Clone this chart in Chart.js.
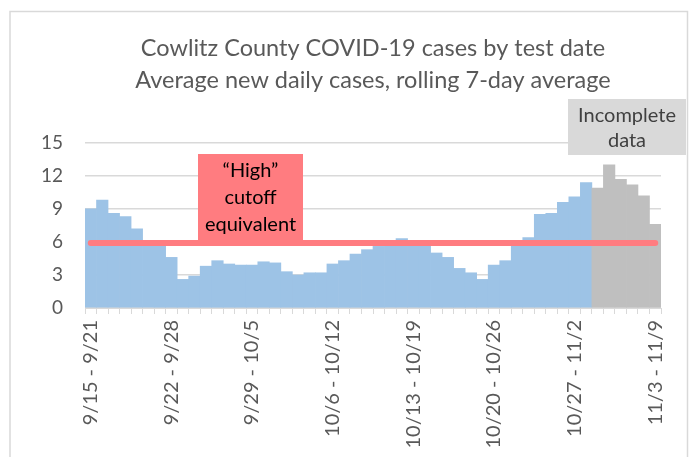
<!DOCTYPE html>
<html>
<head>
<meta charset="utf-8">
<script src="https://cdn.jsdelivr.net/npm/chart.js@4"></script>
<style>
  body { margin: 0; background: #fff; }
  #wrap { width: 692px; height: 457px; }
</style>
</head>
<body>
<div id="wrap"><canvas id="casesChart" width="692" height="457"></canvas></div>
<script>
// DATA

var weeks = [
  "9/15 - 9/21", "9/16 - 9/22", "9/17 - 9/23", "9/18 - 9/24", "9/19 - 9/25",
  "9/20 - 9/26", "9/21 - 9/27", "9/22 - 9/28", "9/23 - 9/29", "9/24 - 9/30",
  "9/25 - 10/1", "9/26 - 10/2", "9/27 - 10/3", "9/28 - 10/4", "9/29 - 10/5",
  "9/30 - 10/6", "10/1 - 10/7", "10/2 - 10/8", "10/3 - 10/9", "10/4 - 10/10",
  "10/5 - 10/11", "10/6 - 10/12", "10/7 - 10/13", "10/8 - 10/14", "10/9 - 10/15",
  "10/10 - 10/16", "10/11 - 10/17", "10/12 - 10/18", "10/13 - 10/19", "10/14 - 10/20",
  "10/15 - 10/21", "10/16 - 10/22", "10/17 - 10/23", "10/18 - 10/24", "10/19 - 10/25",
  "10/20 - 10/26", "10/21 - 10/27", "10/22 - 10/28", "10/23 - 10/29", "10/24 - 10/30",
  "10/25 - 10/31", "10/26 - 11/1", "10/27 - 11/2", "10/28 - 11/3", "10/29 - 11/4",
  "10/30 - 11/5", "10/31 - 11/6", "11/1 - 11/7", "11/2 - 11/8", "11/3 - 11/9"
];

var avgCases = [
  9.0, 9.8, 8.6, 8.3, 7.2, 5.8, 5.7, 4.6, 2.6, 2.9,
  3.8, 4.3, 4.0, 3.9, 3.9, 4.2, 4.1, 3.3, 3.0, 3.2,
  3.2, 4.0, 4.3, 4.9, 5.3, 5.6, 5.8, 6.3, 5.9, 5.8,
  5.0, 4.6, 3.6, 3.2, 2.6, 3.9, 4.3, 5.8, 6.4, 8.5,
  8.6, 9.6, 10.1, 11.4, 10.9, 13.0, 11.7, 11.2, 10.2, 7.6
];

var yTicks = [0, 3, 6, 9, 12, 15];
var cutoff = 5.9;          // "High" cutoff equivalent
var firstIncomplete = 44;  // bars from here on are incomplete data
var labelEvery = 7;

var cutoffLine = weeks.map(function () { return cutoff; });

var FONT = "Lato, 'Open Sans', sans-serif";



// BORDER + TEXT BOXES

var boxesPlugin = {
  id: "boxes",
  beforeDraw: function (chart) {
    var c = chart.ctx;
    c.save();
    c.strokeStyle = "#d9d9d9";
    c.lineWidth = 1.5;
    c.strokeRect(10, 11.5, 677.5, 470);
    c.restore();
  },
  afterDatasetsDraw: function (chart) {
    var c = chart.ctx;
    var y = chart.scales.y;
    c.save();

    // high cutoff box sitting on the line
    var top = 154;
    var bottom = y.getPixelForValue(cutoff) - 2;
    c.fillStyle = "#FF7C80";
    c.fillRect(198, top, 105, bottom - top);
    c.fillStyle = "#000";
    c.font = "20px " + FONT;
    c.textAlign = "center";
    c.textBaseline = "middle";
    c.fillText("\u201CHigh\u201D", 250.5, 171);
    c.fillText("cutoff", 250.5, 198);
    c.fillText("equivalent", 250.5, 225);

    // incomplete data box
    c.fillStyle = "#d9d9d9";
    c.fillRect(568, 99, 118, 56);
    c.fillStyle = "#404040";
    c.fillText("Incomplete", 627, 116);
    c.fillText("data", 627, 141);

    c.restore();
  }
};



// CHART

new Chart(document.getElementById("casesChart"), {
  type: "bar",
  data: {
    labels: weeks,
    datasets: [
      {
        type: "line",
        label: "High cutoff",
        data: cutoffLine,
        borderColor: "#FF7C80",
        borderWidth: 6,
        borderCapStyle: "round",
        pointRadius: 0,
        order: 0,
      },
      {
        label: "Average new daily cases",
        data: avgCases,
        backgroundColor: function (ctx) {
          return ctx.dataIndex >= firstIncomplete ? "#BFBFBF" : "#9DC3E6";
        },
        categoryPercentage: 1,
        barPercentage: 1,
        order: 1,
      },
    ],
  },
  options: {
    responsive: false,
    animation: false,
    layout: { padding: { left: 0, right: 31, top: 0, bottom: 0 } },
    plugins: {
      legend: { display: false },
      tooltip: { enabled: false },
      title: {
        display: true,
        text: [
          "Cowlitz County COVID-19 cases by test date",
          "Average new daily cases, rolling 7-day average",
        ],
        fullSize: false,
        color: "#595959",
        font: { family: FONT, size: 23.5, weight: "normal", lineHeight: 1.36 },
        padding: { top: 32, bottom: 47 },
      },
    },
    scales: {
      x: {
        grid: {
          offset: true,
          drawOnChartArea: false,
          color: "#d9d9d9",
          tickLength: 6,
        },
        border: { color: "#d9d9d9" },
        ticks: {
          autoSkip: false,
          minRotation: 90,
          maxRotation: 90,
          padding: 6,
          color: "#595959",
          font: { family: FONT, size: 20 },
          callback: function (val, i) {
            return i % labelEvery === 0 ? this.getLabelForValue(val) : "";
          },
        },
        afterFit: function (scale) {
          scale.height = 149;
        },
      },
      y: {
        min: yTicks[0],
        max: yTicks[yTicks.length - 1],
        grid: { color: "#d9d9d9", lineWidth: 1.5, drawTicks: false },
        border: { display: false },
        ticks: {
          stepSize: yTicks[1] - yTicks[0],
          padding: 22,
          color: "#595959",
          font: { family: FONT, size: 19 },
        },
        afterFit: function (scale) {
          scale.width = 85;
        },
      },
    },
  },
  plugins: [boxesPlugin],
});
</script>
</body>
</html>
